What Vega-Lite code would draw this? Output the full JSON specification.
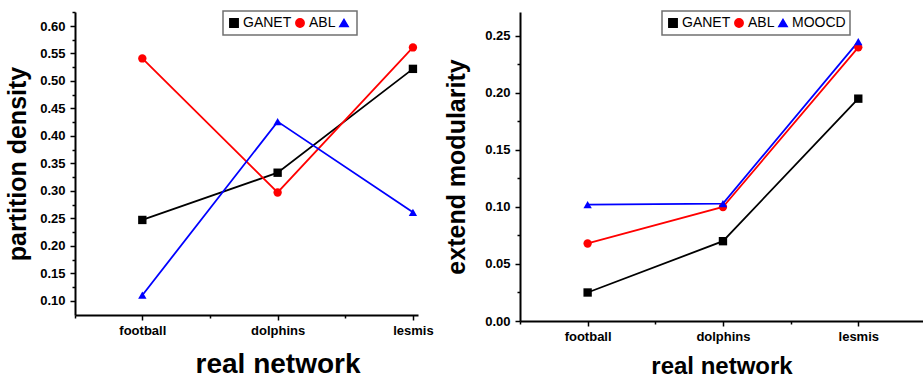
{
  "$schema": "https://vega.github.io/schema/vega-lite/v6.json",
  "background": "white",
  "padding": {"left": 5, "top": 10, "right": 0, "bottom": 0},
  "data": {"values": [
    {"network": "football", "method": "GANET", "partition_density": 0.247, "extend_modularity": 0.025},
    {"network": "dolphins", "method": "GANET", "partition_density": 0.333, "extend_modularity": 0.070},
    {"network": "lesmis", "method": "GANET", "partition_density": 0.522, "extend_modularity": 0.195},
    {"network": "football", "method": "ABL", "partition_density": 0.541, "extend_modularity": 0.068},
    {"network": "dolphins", "method": "ABL", "partition_density": 0.297, "extend_modularity": 0.100},
    {"network": "lesmis", "method": "ABL", "partition_density": 0.561, "extend_modularity": 0.240},
    {"network": "football", "method": "MOOCD", "partition_density": 0.110, "extend_modularity": 0.102},
    {"network": "dolphins", "method": "MOOCD", "partition_density": 0.426, "extend_modularity": 0.103},
    {"network": "lesmis", "method": "MOOCD", "partition_density": 0.261, "extend_modularity": 0.245}
  ]},
  "config": {
    "font": "Liberation Sans",
    "view": {"stroke": null},
    "axis": {
      "domainColor": "black", "domainWidth": 2, "tickColor": "black", "tickWidth": 1.5,
      "labelColor": "black", "labelFont": "Liberation Sans", "labelFontWeight": "bold", "labelFontSize": 13,
      "titleFont": "Liberation Sans", "titleFontWeight": "bold", "titleColor": "black", "grid": false
    }
  },
  "spacing": 102,
  "bounds": "flush",
  "resolve": {
    "scale": {"color": "independent", "shape": "independent", "size": "independent"},
    "legend": {"color": "independent", "shape": "independent"}
  },
  "hconcat": [
    {
      "width": 343,
      "height": 303,
      "layer": [
        {
          "mark": {"type": "line", "strokeWidth": 1.8},
          "encoding": {
            "x": {"field": "network", "type": "nominal", "sort": ["football", "dolphins", "lesmis"],
              "scale": {"type": "point", "padding": 0.2675, "align": 0.93},
              "axis": {"orient": "bottom", "title": "real network", "titleFontSize": 28, "titleX": 202.5, "titleAlign": "center", "labelAngle": 0, "tickSize": 5, "labelPadding": 4, "titlePadding": 13}},
            "y": {"field": "partition_density", "type": "quantitative",
              "scale": {"domain": [0.074, 0.6255], "zero": false, "nice": false},
              "axis": {"orient": "left", "values": [0.1, 0.15, 0.2, 0.25, 0.3, 0.35, 0.4, 0.45, 0.5, 0.55, 0.6], "format": ".2f", "title": "partition density", "titleFontSize": 25, "tickSize": 5, "labelPadding": 5, "titlePadding": 9}},
            "color": {"field": "method", "type": "nominal",
              "scale": {"domain": ["GANET", "ABL", "MOOCD"], "range": ["#000000", "#ff0000", "#0000ff"]},
              "legend": {
                "orient": "none", "legendX": 148, "legendY": -1, "direction": "horizontal", "title": null,
                "strokeColor": "#707070", "padding": 4,
                "labelFont": "Liberation Sans", "labelFontSize": 14, "labelFontWeight": "normal", "labelColor": "black",
                "labelOffset": 2, "columnPadding": 1, "symbolSize": 1089, "symbolStrokeWidth": 1.5, "symbolOpacity": 1, "clipHeight": 16,
                "symbolType": {"expr": "datum.value === 'GANET' ? 'M-1,0H1M-0.2,-0.2H0.2V0.2H-0.2Z' : datum.value === 'ABL' ? 'M-1,0H1M0.25,0A0.25,0.25,0,1,1,-0.25,0A0.25,0.25,0,1,1,0.25,0Z' : 'M-1,0H1M0,-0.27L0.33,0.2L-0.33,0.2Z'"},
                "symbolFillColor": {"expr": "datum.value === 'GANET' ? '#000000' : datum.value === 'ABL' ? '#ff0000' : '#0000ff'"},
                "symbolStrokeColor": {"expr": "datum.value === 'GANET' ? '#000000' : datum.value === 'ABL' ? '#ff0000' : '#0000ff'"},
                "labelExpr": "datum.label == 'MOOCD' ? '' : datum.label",
                "encode": {
                  "legend": {"update": {"strokeWidth": {"value": 1.5}}}
                }
              }}
          }
        },
        {
          "mark": {"type": "point", "filled": true, "opacity": 1},
          "encoding": {
            "x": {"field": "network", "type": "nominal", "sort": ["football", "dolphins", "lesmis"],
              "scale": {"type": "point", "padding": 0.2675, "align": 0.93},
              "axis": {"orient": "bottom", "labels": false, "domain": false, "title": null, "tickSize": 3, "tickOffset": -67.65}},
            "y": {"field": "partition_density", "type": "quantitative",
              "scale": {"domain": [0.074, 0.6255], "zero": false, "nice": false},
              "axis": {"orient": "left", "values": [0.125, 0.175, 0.225, 0.275, 0.325, 0.375, 0.425, 0.475, 0.525, 0.575, 0.625], "labels": false, "domain": false, "title": null, "tickSize": 3}},
            "color": {"field": "method", "type": "nominal",
              "scale": {"domain": ["GANET", "ABL", "MOOCD"], "range": ["#000000", "#ff0000", "#0000ff"]}, "legend": null},
            "shape": {"field": "method", "type": "nominal",
              "scale": {"domain": ["GANET", "ABL", "MOOCD"], "range": ["square", "circle", "triangle-up"]}, "legend": null},
            "size": {"field": "method", "type": "nominal",
              "scale": {"domain": ["GANET", "ABL", "MOOCD"], "range": [70, 70, 160]}, "legend": null}
          }
        }
      ],
      "resolve": {"axis": {"x": "independent", "y": "independent"}}
    },
    {
      "width": 403,
      "height": 309,
      "layer": [
        {
          "mark": {"type": "line", "strokeWidth": 1.8},
          "encoding": {
            "x": {"field": "network", "type": "nominal", "sort": ["football", "dolphins", "lesmis"],
              "scale": {"type": "point", "padding": 0.489, "align": 0.511},
              "axis": {"orient": "bottom", "title": "real network", "titleFontSize": 24, "labelAngle": 0, "tickSize": 5, "labelPadding": 4, "titlePadding": 11}},
            "y": {"field": "extend_modularity", "type": "quantitative",
              "scale": {"domain": [0, 0.271], "nice": false},
              "axis": {"orient": "left", "values": [0, 0.05, 0.1, 0.15, 0.2, 0.25], "format": ".2f", "title": "extend modularity", "titleFontSize": 25, "tickSize": 5, "labelPadding": 5, "titlePadding": 15}},
            "color": {"field": "method", "type": "nominal",
              "scale": {"domain": ["GANET", "ABL", "MOOCD"], "range": ["#000000", "#ff0000", "#0000ff"]},
              "legend": {
                "orient": "none", "legendX": 142, "legendY": -1, "direction": "horizontal", "title": null,
                "strokeColor": "#707070", "padding": 4,
                "labelFont": "Liberation Sans", "labelFontSize": 14, "labelFontWeight": "normal", "labelColor": "black",
                "labelOffset": 2, "columnPadding": 1, "symbolSize": 1089, "symbolStrokeWidth": 1.5, "symbolOpacity": 1, "clipHeight": 16,
                "symbolType": {"expr": "datum.value === 'GANET' ? 'M-1,0H1M-0.2,-0.2H0.2V0.2H-0.2Z' : datum.value === 'ABL' ? 'M-1,0H1M0.25,0A0.25,0.25,0,1,1,-0.25,0A0.25,0.25,0,1,1,0.25,0Z' : 'M-1,0H1M0,-0.27L0.33,0.2L-0.33,0.2Z'"},
                "symbolFillColor": {"expr": "datum.value === 'GANET' ? '#000000' : datum.value === 'ABL' ? '#ff0000' : '#0000ff'"},
                "symbolStrokeColor": {"expr": "datum.value === 'GANET' ? '#000000' : datum.value === 'ABL' ? '#ff0000' : '#0000ff'"},
                "encode": {
                  "legend": {"update": {"strokeWidth": {"value": 1.5}}}
                }
              }}
          }
        },
        {
          "mark": {"type": "point", "filled": true, "opacity": 1},
          "encoding": {
            "x": {"field": "network", "type": "nominal", "sort": ["football", "dolphins", "lesmis"],
              "scale": {"type": "point", "padding": 0.489, "align": 0.511},
              "axis": {"orient": "bottom", "labels": false, "domain": false, "title": null, "tickSize": 3, "tickOffset": -67.65}},
            "y": {"field": "extend_modularity", "type": "quantitative",
              "scale": {"domain": [0, 0.271], "nice": false},
              "axis": {"orient": "left", "values": [0.025, 0.075, 0.125, 0.175, 0.225], "labels": false, "domain": false, "title": null, "tickSize": 3}},
            "color": {"field": "method", "type": "nominal",
              "scale": {"domain": ["GANET", "ABL", "MOOCD"], "range": ["#000000", "#ff0000", "#0000ff"]}, "legend": null},
            "shape": {"field": "method", "type": "nominal",
              "scale": {"domain": ["GANET", "ABL", "MOOCD"], "range": ["square", "circle", "triangle-up"]}, "legend": null},
            "size": {"field": "method", "type": "nominal",
              "scale": {"domain": ["GANET", "ABL", "MOOCD"], "range": [70, 70, 160]}, "legend": null}
          }
        }
      ],
      "resolve": {"axis": {"x": "independent", "y": "independent"}}
    }
  ]
}
